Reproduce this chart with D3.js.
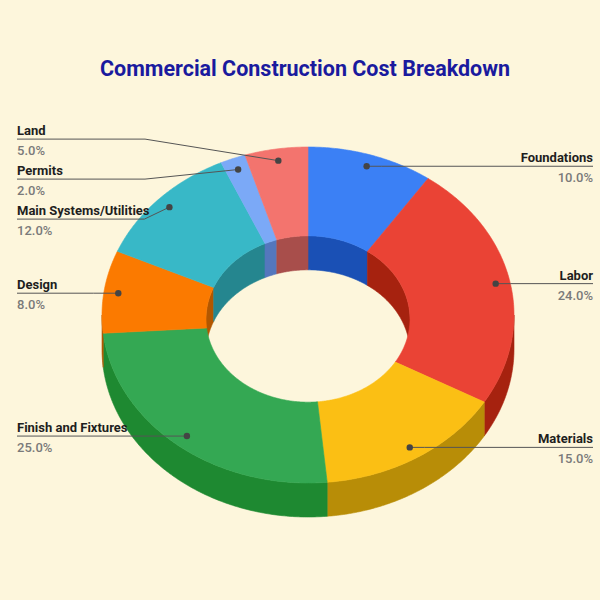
<!DOCTYPE html>
<html>
<head>
<meta charset="utf-8">
<title>Commercial Construction Cost Breakdown</title>
<script src="https://cdn.jsdelivr.net/npm/d3@7"></script>
<style>
    body { margin: 0; background: #fdf6dc; }
    svg { display: block; font-family: Roboto, "Noto Sans", sans-serif; }
</style>
</head>
<body>
<script>
// data
var categories = ["Foundations", "Labor", "Materials", "Finish and Fixtures",
        "Design", "Main Systems/Utilities", "Permits", "Land"];
var values = [10, 24, 15, 25, 8, 12, 2, 5];

// styling
var topColors  = ["#3b80f5", "#ea4335", "#fbbf14", "#34a853", "#fb7a00", "#38b8c7", "#7ba9f7", "#f3746e"];
var wallColors = ["#1a50b5", "#a6220f", "#b88d07", "#1e8931", "#b25700", "#25868f", "#5477bd", "#a84e4b"];

var width = 600, height = 600;
var cx = 308, cy = 315, rx = 206, ry = 168,
        innerK = 0.495, innerDy = 4, depth = 34, dotK = 0.93;
var fmt = function (v) { return d3.format(".1f")(v) + "%"; };

var svg = d3.select("body").append("svg")
        .attr("width", width)
        .attr("height", height);

svg.append("rect")
        .attr("width", width).attr("height", height)
        .attr("fill", "#fdf6dc");

svg.append("text")
        .attr("x", 305).attr("y", 76)
        .attr("text-anchor", "middle")
        .attr("font-size", 21.5)
        .attr("font-weight", 700)
        .attr("fill", "#1a1a9e")
        .text("Commercial Construction Cost Breakdown");

var pie = d3.pie().sort(null).value(function (d) { return d; });
var arcs = pie(values);

function outerPt(a, dy) {
    return [cx + rx * Math.sin(a), cy - ry * Math.cos(a) + (dy || 0)];
}
function innerPt(a, dy) {
    return [cx + rx * innerK * Math.sin(a), cy + innerDy - ry * innerK * Math.cos(a) + (dy || 0)];
}
function sample(fn, a0, a1, dy) {
    var n = Math.max(2, Math.ceil(Math.abs(a1 - a0) / 0.01));
    return d3.range(n + 1).map(function (i) {
        return fn(a0 + (a1 - a0) * i / n, dy);
    });
}
var line = d3.line();

function bandPath(fn, a0, a1) {
    return line(sample(fn, a0, a1, 0).concat(sample(fn, a1, a0, depth))) + "Z";
}
function topPath(a0, a1) {
    return line(sample(outerPt, a0, a1, 0).concat(sample(innerPt, a1, a0, 0))) + "Z";
}
function clip(a0, a1, lo, hi) {
    var s = Math.max(a0, lo), e = Math.min(a1, hi);
    return s < e ? [s, e] : null;
}

var body = svg.append("g").attr("class", "donut");

// outer wall, front half
arcs.forEach(function (d, i) {
    var r = clip(d.startAngle, d.endAngle, Math.PI / 2, 3 * Math.PI / 2);
    if (!r) return;
    body.append("path")
            .attr("d", bandPath(outerPt, r[0], r[1]))
            .attr("fill", wallColors[i])
            .attr("stroke", wallColors[i])
            .attr("stroke-width", 0.6);
});

// inner wall, back half (seen through the hole)
arcs.forEach(function (d, i) {
    [[0, Math.PI / 2], [3 * Math.PI / 2, 2 * Math.PI]].forEach(function (rng) {
        var r = clip(d.startAngle, d.endAngle, rng[0], rng[1]);
        if (!r) return;
        body.append("path")
                .attr("d", bandPath(innerPt, r[0], r[1]))
                .attr("fill", wallColors[i])
                .attr("stroke", wallColors[i])
                .attr("stroke-width", 0.6);
    });
});

// top faces
arcs.forEach(function (d, i) {
    body.append("path")
            .attr("d", topPath(d.startAngle, d.endAngle))
            .attr("fill", topColors[i])
            .attr("stroke", topColors[i])
            .attr("stroke-width", 0.6);
});

// labels
var labels = arcs.map(function (d, i) {
    var m = (d.startAngle + d.endAngle) / 2;
    var dot = [cx + dotK * rx * Math.sin(m), cy - dotK * ry * Math.cos(m)];
    return {i: i, dot: dot, left: m > Math.PI, ly: dot[1]};
});

function spread(list, gap) {
    list.sort(function (a, b) { return a.ly - b.ly; });
    for (var k = 0; k < 200; k++) {
        for (var j = 1; j < list.length; j++) {
            var diff = list[j].ly - list[j - 1].ly;
            if (diff < gap) {
                var s = (gap - diff) / 2;
                list[j - 1].ly -= s;
                list[j].ly += s;
            }
        }
    }
}
spread(labels.filter(function (l) { return l.left; }), 40);
spread(labels.filter(function (l) { return !l.left; }), 40);

var lg = svg.append("g").attr("class", "labels");

labels.forEach(function (l) {
    var tx = l.left ? 17 : 593,
            elbow = l.left ? Math.min(l.dot[0] - 25, 145) : l.dot[0] + 15;

    lg.append("path")
            .attr("d", line([[tx, l.ly], [elbow, l.ly], l.dot]))
            .attr("fill", "none")
            .attr("stroke", "#555")
            .attr("stroke-width", 1);

    lg.append("circle")
            .attr("cx", l.dot[0]).attr("cy", l.dot[1])
            .attr("r", 3.2)
            .attr("fill", "#444");

    lg.append("text")
            .attr("x", tx).attr("y", l.ly - 4)
            .attr("text-anchor", l.left ? "start" : "end")
            .attr("font-size", 13)
            .attr("font-weight", 700)
            .attr("fill", "#1e1e1e")
            .text(categories[l.i]);

    lg.append("text")
            .attr("x", tx).attr("y", l.ly + 16)
            .attr("text-anchor", l.left ? "start" : "end")
            .attr("font-size", 13)
            .attr("font-weight", 500)
            .attr("fill", "#7a7a7a")
            .text(fmt(values[l.i]));
});
</script>
</body>
</html>
